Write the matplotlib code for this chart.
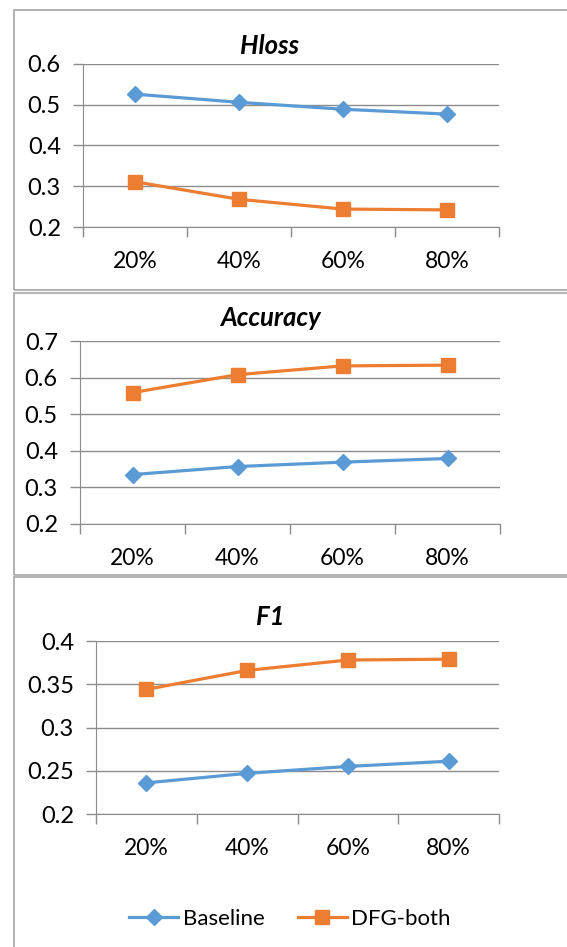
import matplotlib
matplotlib.use('Agg')
import matplotlib.pyplot as plt
from matplotlib.patches import Rectangle
from matplotlib.lines import Line2D

plt.rcParams['font.family'] = ['Lato', 'DejaVu Sans']

categories = ['20%', '40%', '60%', '80%']
titles = ['Hloss', 'Accuracy', 'F1']

hloss_baseline = [0.526, 0.506, 0.489, 0.477]
hloss_dfg = [0.311, 0.268, 0.244, 0.242]
acc_baseline = [0.335, 0.357, 0.369, 0.379]
acc_dfg = [0.559, 0.608, 0.632, 0.634]
f1_baseline = [0.236, 0.247, 0.255, 0.261]
f1_dfg = [0.344, 0.366, 0.378, 0.379]

yticks_list = [[0.2, 0.3, 0.4, 0.5, 0.6],
               [0.2, 0.3, 0.4, 0.5, 0.6, 0.7],
               [0.2, 0.25, 0.3, 0.35, 0.4]]
ytick_labels = [['0.2', '0.3', '0.4', '0.5', '0.6'],
                ['0.2', '0.3', '0.4', '0.5', '0.6', '0.7'],
                ['0.2', '0.25', '0.3', '0.35', '0.4']]

W, H = 567, 947
BLUE = '#5B9BD5'
ORANGE = '#ED7D31'
GRID = '#8c8c8c'

fig = plt.figure(figsize=(W / 100, H / 100), dpi=100)

# panel boxes (pixels): left, top, bottom
boxes = [(14, 10, 290), (14, 293, 575), (14, 577, 960)]
for l, t, b in boxes:
    fig.patches.append(Rectangle((l / W, 1 - b / H), (600 - l) / W, (b - t) / H,
                                 transform=fig.transFigure, fill=False,
                                 edgecolor='#a6a6a6', lw=1.2))

# axes areas (pixels): left, right, top, bottom
areas = [(83, 499, 64, 227), (80, 500, 341, 524), (96, 499, 641, 814)]
title_y = [46, 318, 617]
series = [(hloss_baseline, hloss_dfg), (acc_baseline, acc_dfg), (f1_baseline, f1_dfg)]

x = [i + 0.5 for i in range(len(categories))]
for k, (l, r, t, b) in enumerate(areas):
    ax = fig.add_axes([l / W, 1 - b / H, (r - l) / W, (b - t) / H])
    base, dfg = series[k]
    ax.plot(x, base, color=BLUE, lw=2.3, marker='D', ms=8.5, label='Baseline', zorder=3)
    ax.plot(x, dfg, color=ORANGE, lw=2.3, marker='s', ms=10, label='DFG-both', zorder=3)
    ax.set_xlim(0, 4)
    yt = yticks_list[k]
    ax.set_ylim(yt[0], yt[-1])
    ax.set_yticks(yt)
    ax.set_yticklabels(ytick_labels[k])
    ax.set_xticks(range(5))
    ax.set_xticklabels([])
    ax.set_xticks(x, minor=True)
    ax.set_xticklabels(categories, minor=True)
    ax.tick_params(axis='x', which='major', length=7, width=1, color=GRID, direction='out')
    ax.tick_params(axis='x', which='minor', length=0, pad=17, labelsize=16.5)
    ax.tick_params(axis='y', length=7, width=1, color=GRID, pad=9, labelsize=17)
    ax.grid(axis='y', color=GRID, lw=1)
    ax.set_axisbelow(True)
    for s in ['top', 'right']:
        ax.spines[s].set_visible(False)
    ax.spines['left'].set_color(GRID)
    ax.spines['bottom'].set_color(GRID)
    fig.text(270 / W, 1 - title_y[k] / H, titles[k], ha='center', va='center',
             fontsize=18.5, fontweight='bold', fontstyle='italic')

handles = [Line2D([], [], color=BLUE, lw=2.3, marker='D', ms=8.5),
           Line2D([], [], color=ORANGE, lw=2.3, marker='s', ms=10)]
fig.legend(handles, ['Baseline', 'DFG-both'], loc='center',
           bbox_to_anchor=(290 / W, 1 - 919 / H), ncol=2, frameon=False,
           fontsize=16, handlelength=2.2, handletextpad=0.2, columnspacing=1.5)

fig.savefig('out.png', dpi=100, facecolor='white')
plt.close()
